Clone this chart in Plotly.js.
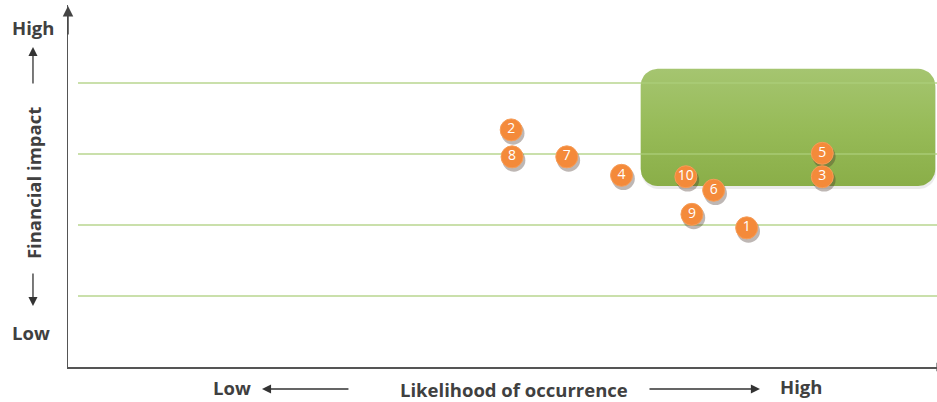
<!DOCTYPE html>
<html>
<head>
<meta charset="utf-8">
<script src="https://cdn.plot.ly/plotly-3.0.1.min.js"></script>
<style>
  html, body { margin: 0; padding: 0; background: #ffffff; }
  #chart { width: 937px; height: 402px; }
</style>
</head>
<body>
<div id="chart"></div>
<script>
// Risk register: likelihood (x) vs financial impact (y), 0–10 / 0–5 scales
const riskIds    = ['1', '2', '3', '4', '5', '6', '7', '8', '9', '10'];
const likelihood = [7.81, 5.10, 8.68, 6.37, 8.68, 7.43, 5.74, 5.11, 7.18, 7.11];
const impact     = [1.96, 3.34, 2.68, 2.70, 3.01, 2.49, 2.96, 2.96, 2.15, 2.68];

// Impact reference levels drawn as guide lines
const impactLevels = [1, 2, 3, 4];

// Critical zone (high likelihood, high impact)
const zoneX = [6.59, 9.98];
const zoneY = [2.55, 4.20];

const X_RANGE = [0, 10];
const Y_RANGE = [0, 5.099];
const PLOT_W = 869, PLOT_H = 362;

// Build a rounded rectangle outline (corner radius in pixels) in data space
function roundedRect(x0, x1, y0, y1, rPx) {
  const kx = (X_RANGE[1] - X_RANGE[0]) / PLOT_W;
  const ky = (Y_RANGE[1] - Y_RANGE[0]) / PLOT_H;
  const rx = rPx * kx, ry = rPx * ky;
  const corners = [
    [x1 - rx, y1 - ry, 0],          // top-right
    [x0 + rx, y1 - ry, 90],         // top-left
    [x0 + rx, y0 + ry, 180],        // bottom-left
    [x1 - rx, y0 + ry, 270]         // bottom-right
  ];
  const xs = [], ys = [];
  corners.forEach(([cx, cy, a0]) => {
    for (let i = 0; i <= 10; i++) {
      const a = (a0 + 9 * i) * Math.PI / 180;
      xs.push(cx + rx * Math.cos(a));
      ys.push(cy + ry * Math.sin(a));
    }
  });
  xs.push(xs[0]); ys.push(ys[0]);
  return { xs, ys };
}

const zone = roundedRect(zoneX[0], zoneX[1], zoneY[0], zoneY[1], 17);
const dyShadow = 3 * (Y_RANGE[1] - Y_RANGE[0]) / PLOT_H;
const dxShadow = 1.5 * (X_RANGE[1] - X_RANGE[0]) / PLOT_W;

const zoneShadow = {
  x: zone.xs.map(v => v + dxShadow * 0.5), y: zone.ys.map(v => v - dyShadow),
  mode: 'lines', fill: 'toself', line: { width: 0 },
  fillcolor: 'rgba(60,60,60,0.10)', hoverinfo: 'skip', showlegend: false
};
const zoneTrace = {
  x: zone.xs, y: zone.ys,
  mode: 'lines', fill: 'toself', line: { width: 0, color: '#97bb58' },
  fillgradient: { type: 'vertical', colorscale: [[0, '#8aae48'], [0.5, '#97bb58'], [1, '#a5c570']] },
  hoverinfo: 'skip', showlegend: false
};

// Guide lines sit above the zone, slightly translucent
const guideTraces = impactLevels.map(v => ({
  x: [0.115, 10], y: [v, v], mode: 'lines',
  line: { color: 'rgba(172,206,122,0.85)', width: 1.3 },
  hoverinfo: 'skip', showlegend: false
}));

const markerShadow = {
  x: likelihood.map(v => v + dxShadow * 1.2), y: impact.map(v => v - dyShadow * 1.1),
  mode: 'markers', marker: { size: 23, color: 'rgba(70,50,40,0.35)' },
  hoverinfo: 'skip', showlegend: false
};
const riskTrace = {
  x: likelihood, y: impact, text: riskIds,
  mode: 'markers+text', textposition: 'middle center',
  textfont: { family: 'Open Sans, sans-serif', size: 14, color: '#ffffff' },
  marker: { size: 22, color: '#f48a3a', line: { color: '#f69d58', width: 1 } },
  hovertemplate: 'Risk %{text}<extra></extra>', showlegend: false
};

const labelFont = { family: 'Open Sans, sans-serif', size: 18.5, color: '#404040', weight: 700 };
const arrowCommon = { text: '', showarrow: true, arrowhead: 2, arrowsize: 1.4, arrowwidth: 1.3,
  arrowcolor: '#333333', standoff: 0, startstandoff: 0, xref: 'paper', yref: 'paper' };
const textCommon = { xref: 'paper', yref: 'paper', showarrow: false, xanchor: 'center', yanchor: 'middle', font: labelFont };

const annotations = [
  // top arrowhead of vertical axis
  Object.assign({}, arrowCommon, { x: 0, y: 0.997, ax: 0, ay: 30, arrowcolor: '#444444', arrowwidth: 1.5 }),
  // vertical axis caption arrows
  Object.assign({}, arrowCommon, { x: -0.0403, y: 0.884, ax: 0, ay: 38 }),
  Object.assign({}, arrowCommon, { x: -0.0403, y: 0.1685, ax: 0, ay: -34 }),
  // horizontal axis caption arrows
  Object.assign({}, arrowCommon, { x: 0.2232, y: -0.0608, ax: 88, ay: 0 }),
  Object.assign({}, arrowCommon, { x: 0.7963, y: -0.0608, ax: -112, ay: 0 }),
  // captions
  Object.assign({}, textCommon, { text: 'High', x: -0.0403, y: 0.939 }),
  Object.assign({}, textCommon, { text: 'Low', x: -0.0426, y: 0.094 }),
  Object.assign({}, textCommon, { text: 'Financial impact', x: -0.0403, y: 0.508, textangle: -90 }),
  Object.assign({}, textCommon, { text: 'Low', x: 0.1887, y: -0.058 }),
  Object.assign({}, textCommon, { text: 'Likelihood of occurrence', x: 0.513, y: -0.0608 }),
  Object.assign({}, textCommon, { text: 'High', x: 0.8435, y: -0.0525 })
];

const layout = {
  width: 937, height: 402,
  margin: { l: 68, r: 0, t: 5, b: 35 },
  paper_bgcolor: '#ffffff', plot_bgcolor: '#ffffff',
  xaxis: { range: X_RANGE, showgrid: false, zeroline: false, showticklabels: false,
    showline: true, linecolor: '#555555', linewidth: 1.5, ticks: '', fixedrange: true },
  yaxis: { range: Y_RANGE, showgrid: false, zeroline: false, showticklabels: false,
    showline: true, linecolor: '#555555', linewidth: 1.5, ticks: '', fixedrange: true },
  shapes: [
    { type: 'line', xref: 'paper', yref: 'paper', x0: 1, x1: 1, y0: -0.012, y1: 0.012,
      line: { color: '#555555', width: 1.2 } }
  ],
  annotations: annotations
};

Plotly.newPlot('chart', [zoneShadow, zoneTrace, ...guideTraces, markerShadow, riskTrace], layout,
  { displayModeBar: false, staticPlot: true });
</script>
</body>
</html>
